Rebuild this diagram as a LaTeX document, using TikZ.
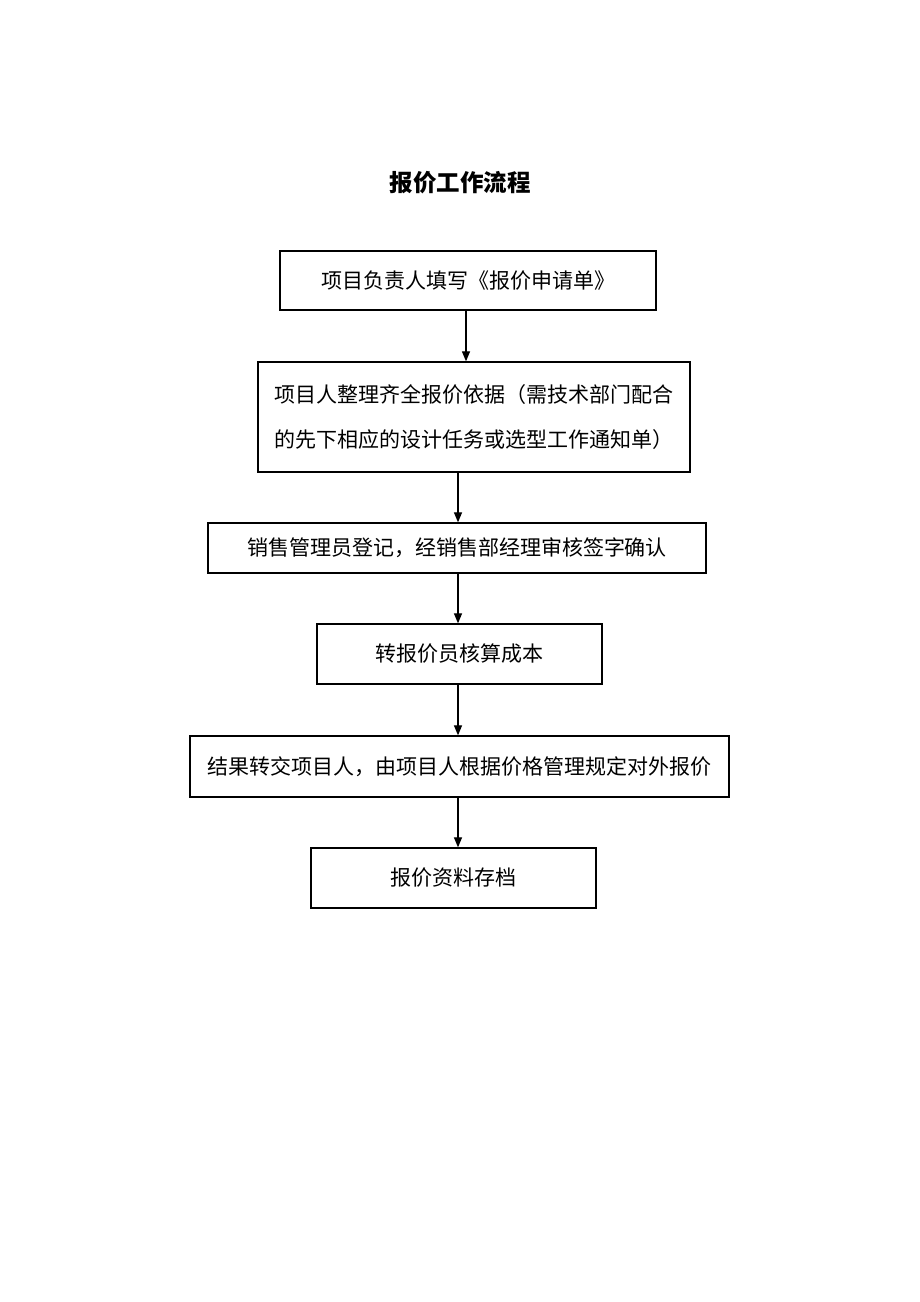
\documentclass[tikz,border=0pt]{standalone}
\usepackage{fontspec}
\setmainfont{Noto Sans CJK SC}
\usetikzlibrary{arrows.meta}
\begin{document}
\begin{tikzpicture}[x=1pt,y=-1pt,
  stepbox/.style={draw=black,line width=1.3pt,rectangle,inner sep=0pt,align=center,
     font=\fontsize{21pt}{45pt}\selectfont},
  flow/.style={draw=black,line width=1.2pt,-{Triangle[length=10pt,width=8pt]}}]
\useasboundingbox[fill=white] (0,0) rectangle (920,1302);
\node[font=\fontsize{23.5pt}{28pt}\selectfont\bfseries] (title) at (460,183) {报价工作流程};
\node[stepbox,minimum width=376pt,minimum height=59pt] (b1) at (468,280.5) {项目负责人填写《报价申请单》};
\node[stepbox,minimum width=432pt,minimum height=110pt] (b2) at (474,417) {项目人整理齐全报价依据（需技术部门配合\\的先下相应的设计任务或选型工作通知单）};
\node[stepbox,minimum width=498pt,minimum height=50pt] (b3) at (457,548) {销售管理员登记，经销售部经理审核签字确认};
\node[stepbox,minimum width=285pt,minimum height=60pt] (b4) at (459.5,654) {转报价员核算成本};
\node[stepbox,minimum width=539pt,minimum height=61pt] (b5) at (459.5,766.5) {结果转交项目人，由项目人根据价格管理规定对外报价};
\node[stepbox,minimum width=285pt,minimum height=60pt] (b6) at (453.5,878) {报价资料存档};
\coordinate (xa) at (466,0);
\coordinate (xb) at (458,0);
\draw[flow] (b1.south -| xa) -- (b2.north -| xa);
\draw[flow] (b2.south -| xb) -- (b3.north -| xb);
\draw[flow] (b3.south -| xb) -- (b4.north -| xb);
\draw[flow] (b4.south -| xb) -- (b5.north -| xb);
\draw[flow] (b5.south -| xb) -- (b6.north -| xb);
\end{tikzpicture}
\end{document}
